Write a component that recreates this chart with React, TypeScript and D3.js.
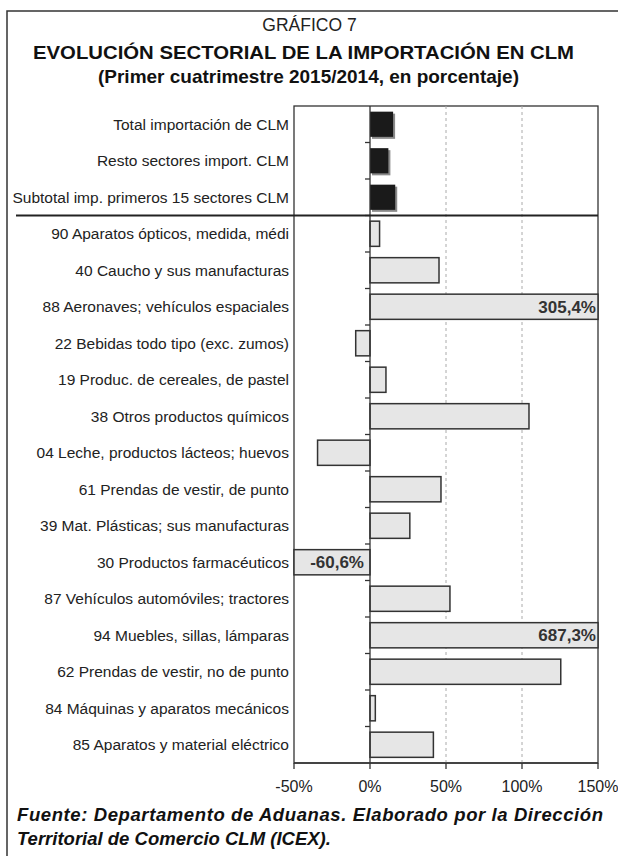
import React from "react";
import * as d3 from "d3";

const W = 618;
const H = 856;

// Summary rows (dark bars) and sector rows (light bars), in display order
const summaryCategories = [
  "Total importación de CLM",
  "Resto sectores import. CLM",
  "Subtotal imp. primeros 15 sectores CLM",
];
const summaryValues = [15.2, 12.1, 16.6];

const sectorCategories = [
  "90 Aparatos ópticos, medida, médi",
  "40 Caucho y sus manufacturas",
  "88 Aeronaves; vehículos espaciales",
  "22 Bebidas todo tipo (exc. zumos)",
  "19 Produc. de cereales, de pastel",
  "38 Otros productos químicos",
  "04 Leche, productos lácteos; huevos",
  "61 Prendas de vestir, de punto",
  "39 Mat. Plásticas; sus manufacturas",
  "30 Productos farmacéuticos",
  "87 Vehículos automóviles; tractores",
  "94 Muebles, sillas, lámparas",
  "62 Prendas de vestir, no de punto",
  "84 Máquinas y aparatos mecánicos",
  "85 Aparatos y material eléctrico",
];
const sectorValues = [6.3, 45.4, 305.4, -9.4, 10.5, 104.6, -34.5, 46.7, 26.2, -60.6, 52.6, 687.3, 125.5, 3.5, 41.7];

const xTicks = [-50, 0, 50, 100, 150];
const xDomain: [number, number] = [-50, 150];

const fmtPct = (v: number) => `${v}%`;
const fmtLabel = (v: number) => `${v.toFixed(1).replace(".", ",")}%`;

const FONT = "'Liberation Sans', Arial, Helvetica, sans-serif";

export default function App() {
  const left = 294;
  const right = 598;
  const top = 106;
  const bottom = 763;

  const x = d3.scaleLinear().domain(xDomain).range([left, right]);
  const allCats = [...summaryCategories, ...sectorCategories];
  const y = d3.scaleBand<string>().domain(allCats).range([top, bottom]).paddingInner(0.31).paddingOuter(0.155);
  const step = y.step();
  const x0 = x(0);

  const clamp = (v: number) => Math.max(xDomain[0], Math.min(xDomain[1], v));
  const sepY = top + step * summaryCategories.length;

  return (
    <div style={{ position: "fixed", left: 0, top: 0 }}>
      <svg width={W} height={H} style={{ display: "block", background: "#fff" }} fontFamily={FONT}>
        {/* outer frame */}
        <rect x={7} y={11} width={W + 10} height={H + 10} fill="none" stroke="#333" strokeWidth={1.5} />

        {/* titles */}
        <text x={309.5} y={31} textAnchor="middle" fontSize={17.5} fill="#222">GRÁFICO 7</text>
        <text x={33} y={59} fontSize={19} fontWeight="bold" fill="#111" textLength={541} lengthAdjust="spacingAndGlyphs">
          EVOLUCIÓN SECTORIAL DE LA IMPORTACIÓN EN CLM
        </text>
        <text x={98} y={83} fontSize={19} fontWeight="bold" fill="#111" textLength={421} lengthAdjust="spacingAndGlyphs">
          (Primer cuatrimestre 2015/2014, en porcentaje)
        </text>

        {/* plot frame */}
        <rect x={left} y={top} width={right - left} height={bottom - top} fill="#fff" stroke="#333" strokeWidth={1.3} />

        {/* dashed gridlines */}
        {xTicks.filter((t) => t > 0 && t < 150).map((t) => (
          <line key={`g${t}`} x1={x(t)} x2={x(t)} y1={top} y2={bottom} stroke="#aaa" strokeWidth={1} strokeDasharray="3,3" />
        ))}

        {/* summary bars with drop shadow */}
        {summaryCategories.map((c, i) => {
          const v = summaryValues[i];
          const bx = Math.min(x0, x(v));
          const bw = Math.abs(x(v) - x0);
          const by = y(c)!;
          return (
            <g key={c}>
              <rect x={bx + 2} y={by + 2} width={bw} height={y.bandwidth()} fill="#8a8a8a" />
              <rect x={bx} y={by} width={bw} height={y.bandwidth()} fill="#1a1a1a" />
            </g>
          );
        })}

        {/* sector bars */}
        {sectorCategories.map((c, i) => {
          const v = sectorValues[i];
          const cv = clamp(v);
          const bx = Math.min(x0, x(cv));
          const bw = Math.abs(x(cv) - x0);
          const by = y(c)!;
          const clipped = cv !== v;
          return (
            <g key={c}>
              <rect x={bx} y={by} width={bw} height={y.bandwidth()} fill="#e6e6e6" stroke="#333" strokeWidth={1.5} />
              {clipped && (
                <text
                  x={v > 0 ? x(cv) - 2 : x0 - 6}
                  y={by + y.bandwidth() / 2 + 6}
                  textAnchor="end"
                  fontSize={17}
                  fontWeight="bold"
                  fill="#333"
                >
                  {fmtLabel(v)}
                </text>
              )}
            </g>
          );
        })}

        {/* zero line and category ticks */}
        <line x1={x0} x2={x0} y1={top} y2={bottom} stroke="#333" strokeWidth={1.3} />
        {allCats.slice(1).map((c) => {
          const ty = y(c)! - (step - y.bandwidth()) / 2;
          return <line key={`t${c}`} x1={x0 - 5} x2={x0} y1={ty} y2={ty} stroke="#333" strokeWidth={1.3} />;
        })}

        {/* separator between summary and sectors */}
        <line x1={16} x2={right} y1={sepY} y2={sepY} stroke="#222" strokeWidth={2} />

        {/* category labels */}
        {allCats.map((c) => (
          <text key={`l${c}`} x={289} y={y(c)! + y.bandwidth() / 2 + 5.5} textAnchor="end" fontSize={15.5} fill="#222">
            {c}
          </text>
        ))}

        {/* x axis */}
        <line x1={left} x2={right} y1={bottom} y2={bottom} stroke="#333" strokeWidth={1.3} />
        {xTicks.map((t) => (
          <g key={`x${t}`}>
            <line x1={x(t)} x2={x(t)} y1={bottom} y2={bottom + 6} stroke="#333" strokeWidth={1.3} />
            <text x={x(t)} y={bottom + 29} textAnchor="middle" fontSize={16} fill="#222">
              {fmtPct(t)}
            </text>
          </g>
        ))}

        {/* source note */}
        <text x={17} y={821} fontSize={18.5} fontWeight="bold" fontStyle="italic" fill="#111" textLength={586} lengthAdjust="spacing">
          Fuente: Departamento de Aduanas. Elaborado por la Dirección
        </text>
        <text x={17} y={845} fontSize={18.5} fontWeight="bold" fontStyle="italic" fill="#111">
          Territorial de Comercio CLM (ICEX).
        </text>
      </svg>
    </div>
  );
}
